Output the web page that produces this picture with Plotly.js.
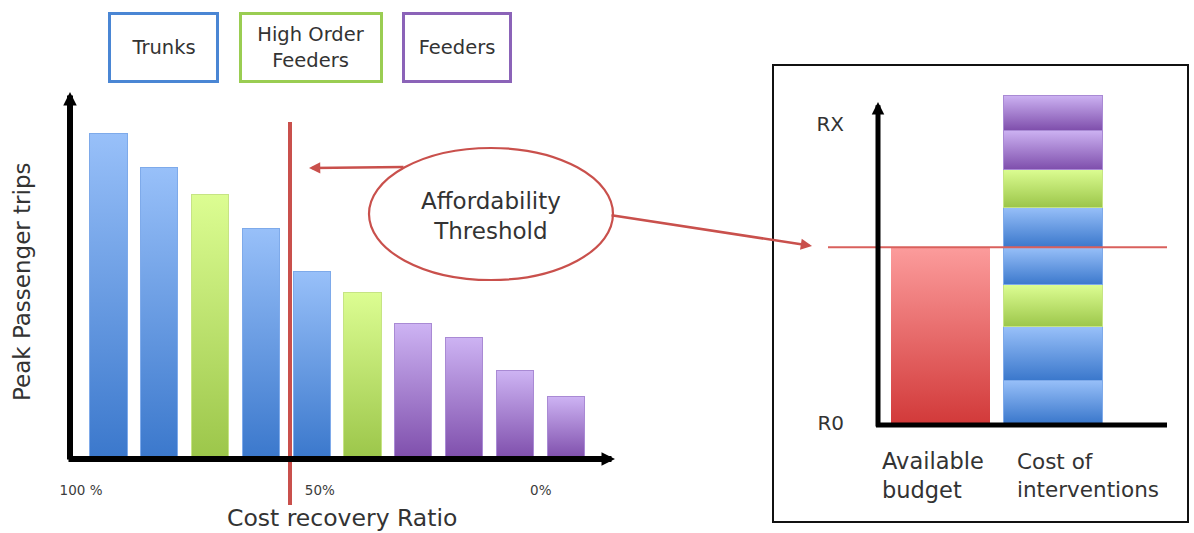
<!DOCTYPE html>
<html>
<head>
<meta charset="utf-8">
<script src="https://cdn.plot.ly/plotly-3.0.1.min.js"></script>
<style>
  html, body { margin: 0; padding: 0; background: #ffffff; }
  #chart { width: 1194px; height: 533px; }
</style>
</head>
<body>
<div id="chart"></div>
<script>
// ---------------- DATA ----------------
// Left chart: routes ordered by cost recovery ratio (100% -> 0%)
const routeIndex = [0, 1, 2, 3, 4, 5, 6, 7, 8, 9];
const peakTrips = [89.4, 80.0, 72.5, 63.3, 51.3, 45.5, 37.0, 33.3, 24.0, 16.9];
const routeType = ['Trunks', 'Trunks', 'High Order Feeders', 'Trunks', 'Trunks',
                   'High Order Feeders', 'Feeders', 'Feeders', 'Feeders', 'Feeders'];
const ratioTickPos = [-0.54, 4.16, 8.51];
const ratioTickText = ['100 %', '50%', '0%'];
const legendTypes = ['Trunks', 'High Order Feeders', 'Feeders'];
const legendText = ['Trunks', 'High Order<br>Feeders', 'Feeders'];

// Right chart: budget vs stacked cost of interventions (bottom -> top)
const budgetCategory = [0];
const availableBudget = [55.3];
const costCategory = [1];
const interventionCost = [13.5, 16.7, 13.2, 11.9, 12.6, 11.9, 12.3, 11.0];
const interventionType = ['Trunks', 'Trunks', 'High Order Feeders', 'Trunks', 'Trunks',
                          'High Order Feeders', 'Feeders', 'Feeders'];
const thresholdValue = 55.3;
const levelTickPos = [0, 94];
const levelTickText = ['R0', 'RX'];

// ---------------- STYLE ----------------
const W = 1194, H = 533;
const X = px => px / W;
const Y = py => 1 - py / H;
const FONT = 'DejaVu Sans, Arial, sans-serif';
const TXT = '#333333';
const RED = '#c9504c';

const typeColor = { 'Trunks': '#6a9de6', 'High Order Feeders': '#bde06e', 'Feeders': '#a682d2', 'Budget': '#e86a6a' };
const typeLine = { 'Trunks': '#7eaaea', 'High Order Feeders': '#c6e484', 'Feeders': '#a98ad4', 'Budget': '#f08a8a' };
const typeBorder = { 'Trunks': '#4a86d4', 'High Order Feeders': '#9acd52', 'Feeders': '#8b63b8' };
const gradStops = {
  'Trunks': ['#98c0f9', '#3b78cc'],
  'High Order Feeders': ['#dcfd92', '#9cc64a'],
  'Feeders': ['#cdb3f3', '#7f4fac'],
  'Budget': ['#fc9c9c', '#d23a3a']
};

// ---------------- TRACES ----------------
const traces = [];
traces.push({
  type: 'bar', x: routeIndex, y: peakTrips, width: 0.73,
  xaxis: 'x', yaxis: 'y',
  marker: { color: routeType.map(t => typeColor[t]), line: { color: routeType.map(t => typeLine[t]), width: 1 } },
  hoverinfo: 'skip', showlegend: false
});
traces.push({
  type: 'bar', x: budgetCategory, y: availableBudget, width: 0.884,
  xaxis: 'x2', yaxis: 'y2',
  marker: { color: typeColor['Budget'], line: { width: 0 } },
  hoverinfo: 'skip', showlegend: false
});
interventionCost.forEach((v, i) => {
  traces.push({
    type: 'bar', x: costCategory, y: [v], width: 0.884,
    xaxis: 'x2', yaxis: 'y2', cliponaxis: false,
    marker: { color: typeColor[interventionType[i]], line: { color: typeLine[interventionType[i]], width: 1 } },
    hoverinfo: 'skip', showlegend: false
  });
});

// ---------------- LAYOUT ----------------
const legendBoxes = [
  { cx: 163.5, w: 105 },
  { cx: 311, w: 138 },
  { cx: 457, w: 104 }
];

const annotations = [];
legendTypes.forEach((t, i) => {
  annotations.push({
    xref: 'paper', yref: 'paper', x: X(legendBoxes[i].cx), y: Y(47.5),
    xanchor: 'center', yanchor: 'middle', showarrow: false,
    text: legendText[i], width: legendBoxes[i].w, height: 65,
    bordercolor: typeBorder[t], borderwidth: 3, borderpad: 0, bgcolor: '#ffffff',
    font: { family: FONT, size: 19.5, color: TXT }
  });
});
// axis titles / labels
annotations.push({ xref: 'paper', yref: 'paper', x: X(22), y: Y(282), textangle: -90,
  xanchor: 'center', yanchor: 'middle', showarrow: false, text: 'Peak Passenger trips',
  font: { family: FONT, size: 23, color: TXT } });
annotations.push({ xref: 'paper', yref: 'paper', x: X(342), y: Y(518),
  xanchor: 'center', yanchor: 'middle', showarrow: false, text: 'Cost recovery Ratio',
  font: { family: FONT, size: 23.5, color: TXT } });
annotations.push({ xref: 'paper', yref: 'paper', x: X(491), y: Y(216),
  xanchor: 'center', yanchor: 'middle', showarrow: false, text: 'Affordability<br>Threshold',
  font: { family: FONT, size: 23, color: TXT } });
annotations.push({ xref: 'paper', yref: 'paper', x: X(880), y: Y(475), align: 'left',
  xanchor: 'left', yanchor: 'middle', showarrow: false, text: 'Available<br>budget',
  font: { family: FONT, size: 22.5, color: TXT } });
annotations.push({ xref: 'paper', yref: 'paper', x: X(1015), y: Y(475), align: 'left',
  xanchor: 'left', yanchor: 'middle', showarrow: false, text: 'Cost of<br>interventions',
  font: { family: FONT, size: 21.5, color: TXT } });
// axis arrows
const arrow = (hx, hy, tx, ty, w, color, size) => ({
  xref: 'paper', yref: 'paper', x: X(hx), y: Y(hy), axref: 'pixel', ayref: 'pixel',
  ax: tx - hx, ay: ty - hy, text: '', showarrow: true, arrowhead: 2, arrowsize: size,
  arrowwidth: w, arrowcolor: color, standoff: 0, startstandoff: 0
});
annotations.push(arrow(70, 92, 70, 461, 6, '#000000', 0.45));
annotations.push(arrow(615, 459, 67, 459, 6, '#000000', 0.45));
annotations.push(arrow(878, 102, 878, 428, 5, '#000000', 0.5));
annotations.push(arrow(309, 168, 405, 167, 2.5, RED, 0.9));
annotations.push(arrow(812, 246, 610, 215, 2.5, RED, 0.9));

const shapes = [
  { type: 'line', xref: 'paper', yref: 'paper', x0: X(290), x1: X(290), y0: Y(122), y1: Y(505),
    line: { color: RED, width: 4 }, layer: 'above' },
  { type: 'circle', xref: 'paper', yref: 'paper', x0: X(369), x1: X(613), y0: Y(280), y1: Y(148),
    line: { color: RED, width: 2.2 }, fillcolor: '#ffffff', layer: 'above' },
  { type: 'rect', xref: 'paper', yref: 'paper', x0: X(773), x1: X(1188), y0: Y(522), y1: Y(65),
    line: { color: '#111111', width: 2 }, fillcolor: 'rgba(0,0,0,0)', layer: 'below' },
  { type: 'line', xref: 'paper', yref: 'paper', x0: X(876), x1: X(1167), y0: Y(425), y1: Y(425),
    line: { color: '#000000', width: 5 }, layer: 'above' },
  { type: 'line', xref: 'paper', yref: 'y2', x0: X(828), x1: X(1167), y0: thresholdValue, y1: thresholdValue,
    line: { color: '#d9605c', width: 2 }, layer: 'above' }
];

const axisCommon = { showgrid: false, zeroline: false, showline: false, fixedrange: true };
const layout = {
  width: W, height: H,
  margin: { l: 0, r: 0, t: 0, b: 0, pad: 0 },
  paper_bgcolor: '#ffffff', plot_bgcolor: 'rgba(0,0,0,0)',
  barmode: 'stack', showlegend: false,
  font: { family: FONT, color: TXT },
  xaxis: Object.assign({}, axisCommon, {
    domain: [X(68), X(606)], range: [-0.797, 9.793],
    tickmode: 'array', tickvals: ratioTickPos, ticktext: ratioTickText,
    ticks: '', ticklabelstandoff: 22, tickfont: { family: FONT, size: 13.5, color: '#3c3c3c' }
  }),
  yaxis: Object.assign({}, axisCommon, {
    domain: [Y(458), Y(90)], range: [0, 101.38], showticklabels: false, ticks: ''
  }),
  xaxis2: Object.assign({}, axisCommon, {
    domain: [X(877), X(1167)], range: [-0.571, 2.018], anchor: 'y2',
    showticklabels: false, ticks: ''
  }),
  yaxis2: Object.assign({}, axisCommon, {
    domain: [Y(423), Y(80)], range: [0, 107.86], anchor: 'x2',
    tickmode: 'array', tickvals: levelTickPos, ticktext: levelTickText,
    ticks: '', ticklabelstandoff: 32, tickfont: { family: FONT, size: 20, color: TXT }
  }),
  shapes: shapes,
  annotations: annotations
};

function toRgb(hex) {
  const h = hex.replace('#', '');
  return 'rgb(' + parseInt(h.slice(0, 2), 16) + ',' + parseInt(h.slice(2, 4), 16) + ',' + parseInt(h.slice(4, 6), 16) + ')';
}

Plotly.newPlot('chart', traces, layout, { staticPlot: true, displayModeBar: false }).then(gd => {
  const svg = gd.querySelector('.main-svg');
  const NS = 'http://www.w3.org/2000/svg';
  let defs = svg.querySelector('defs');
  if (!defs) { defs = document.createElementNS(NS, 'defs'); svg.insertBefore(defs, svg.firstChild); }
  const colorToGrad = {};
  Object.keys(gradStops).forEach((t, k) => {
    const id = 'grad' + k;
    const lg = document.createElementNS(NS, 'linearGradient');
    lg.setAttribute('id', id);
    lg.setAttribute('x1', '0'); lg.setAttribute('y1', '0');
    lg.setAttribute('x2', '0'); lg.setAttribute('y2', '1');
    [[0, gradStops[t][0]], [1, gradStops[t][1]]].forEach(([o, c]) => {
      const s = document.createElementNS(NS, 'stop');
      s.setAttribute('offset', o);
      s.setAttribute('stop-color', c);
      lg.appendChild(s);
    });
    defs.appendChild(lg);
    colorToGrad[toRgb(typeColor[t])] = id;
  });
  gd.querySelectorAll('.barlayer .point path').forEach(p => {
    const f = (p.style.fill || '').replace(/\s/g, '');
    const id = colorToGrad[f];
    if (id) p.style.fill = 'url(#' + id + ')';
  });
});
</script>
</body>
</html>
